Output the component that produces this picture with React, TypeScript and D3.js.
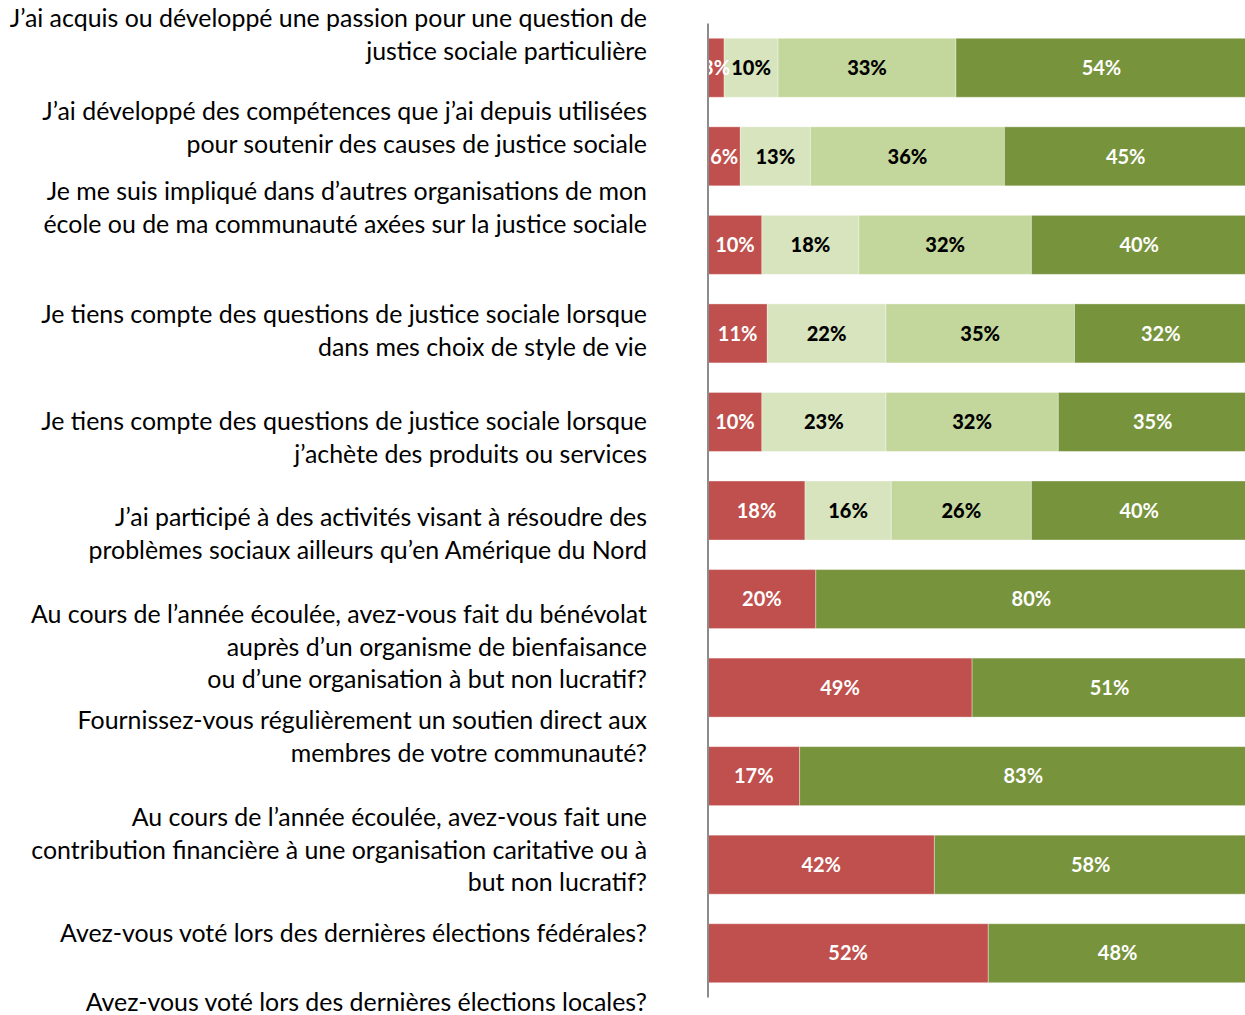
import React from "react";
import * as d3 from "d3";

// ---------- DATA ----------
const categories: string[][] = [
  ["J’ai acquis ou développé une passion pour une question de", "justice sociale particulière"],
  ["J’ai développé des compétences que j’ai depuis utilisées", "pour soutenir des causes de justice sociale"],
  ["Je me suis impliqué dans d’autres organisations de mon", "école ou de ma communauté axées sur la justice sociale"],
  ["Je tiens compte des questions de justice sociale lorsque", "dans mes choix de style de vie"],
  ["Je tiens compte des questions de justice sociale lorsque", "j’achète des produits ou services"],
  ["J’ai participé à des activités visant à résoudre des", "problèmes sociaux ailleurs qu’en Amérique du Nord"],
  ["Au cours de l’année écoulée, avez-vous fait du bénévolat", "auprès d’un organisme de bienfaisance", "ou d’une organisation à but non lucratif?"],
  ["Fournissez-vous régulièrement un soutien direct aux", "membres de votre communauté?"],
  ["Au cours de l’année écoulée, avez-vous fait une", "contribution financière à une organisation caritative ou à", "but non lucratif?"],
  ["Avez-vous voté lors des dernières élections fédérales?"],
  ["Avez-vous voté lors des dernières élections locales?"],
];

const seriesRed = [3, 6, 10, 11, 10, 18, 20, 49, 17, 42, 52];
const seriesLight = [10, 13, 18, 22, 23, 16, 0, 0, 0, 0, 0];
const seriesMid = [33, 36, 32, 35, 32, 26, 0, 0, 0, 0, 0];
const seriesDark = [54, 45, 40, 32, 35, 40, 80, 51, 83, 58, 48];

const seriesKeys = ["red", "light", "mid", "dark"];

// ---------- LAYOUT / STYLE ----------
const W = 1245;
const H = 1015;
const axisX = 708;
const labelRight = 647;
// vertical centres of the category label blocks (as placed in the reference)
const labelCenters = [35, 128, 208, 331, 438, 534, 647, 737, 850, 933, 1002];
const lineH = 32.5;

const colors: Record<string, string> = {
  red: "#C0504D",
  light: "#D7E4BD",
  mid: "#C3D69B",
  dark: "#77933C",
};
const textColors: Record<string, string> = {
  red: "#FFFFFF",
  light: "#000000",
  mid: "#000000",
  dark: "#FFFFFF",
};

const FONT = "Lato, 'Open Sans', 'Noto Sans', sans-serif";

export default function App() {
  const rows = categories.map((_, i) => ({
    idx: i,
    red: seriesRed[i],
    light: seriesLight[i],
    mid: seriesMid[i],
    dark: seriesDark[i],
  }));

  const stack = d3.stack<any>().keys(seriesKeys);
  const stacked = stack(rows);

  const x = d3.scaleLinear().domain([0, 100]).range([axisX, 1247]);
  const y = d3
    .scaleBand<number>()
    .domain(rows.map((r) => r.idx))
    .range([23.5, 997.5])
    .paddingInner(0.334)
    .paddingOuter(0.167);
  const bw = y.bandwidth();

  return (
    <svg
      width={W}
      height={H}
      style={{ position: "absolute", left: 0, top: 0, background: "#fff" }}
      fontFamily={FONT}
    >
      <rect x={0} y={0} width={W} height={H} fill="#fff" />
      {/* category labels */}
      {categories.map((lines, i) => {
        const c = labelCenters[i];
        const top = c - ((lines.length - 1) * lineH) / 2;
        return (
          <text key={i} textAnchor="end" fontSize={24.9} fill="#000">
            {lines.map((l, j) => (
              <tspan key={j} x={labelRight} y={top + j * lineH} dy="0.35em">
                {l}
              </tspan>
            ))}
          </text>
        );
      })}

      {/* bars */}
      {stacked.map((s) => (
        <g key={s.key}>
          {s.map((d, i) => {
            const v = d[1] - d[0];
            if (v <= 0) return null;
            const x0 = x(d[0]);
            const x1 = x(d[1]);
            return (
              <rect
                key={i}
                x={x0}
                y={y(i)!}
                width={x1 - x0}
                height={bw}
                fill={colors[s.key]}
                stroke="#ffffff"
                strokeOpacity={0.35}
                strokeWidth={1}
              />
            );
          })}
        </g>
      ))}

      {/* value labels, drawn above all bars */}
      {stacked.map((s) => (
        <g key={`l-${s.key}`}>
          {s.map((d, i) => {
            const v = d[1] - d[0];
            if (v <= 0) return null;
            const x0 = x(d[0]);
            const x1 = x(d[1]);
            return (
              <text
                key={i}
                x={(x0 + x1) / 2}
                y={y(i)! + bw / 2}
                dy="0.36em"
                textAnchor="middle"
                fontSize={20}
                fontWeight={textColors[s.key] === "#000000" ? 900 : 700}
                fill={textColors[s.key]}
              >
                {`${v}%`}
              </text>
            );
          })}
        </g>
      ))}

      {/* axis line */}
      <line x1={axisX} x2={axisX} y1={y.range()[0]} y2={y.range()[1]} stroke="#8c8c8c" strokeWidth={2} />
    </svg>
  );
}
